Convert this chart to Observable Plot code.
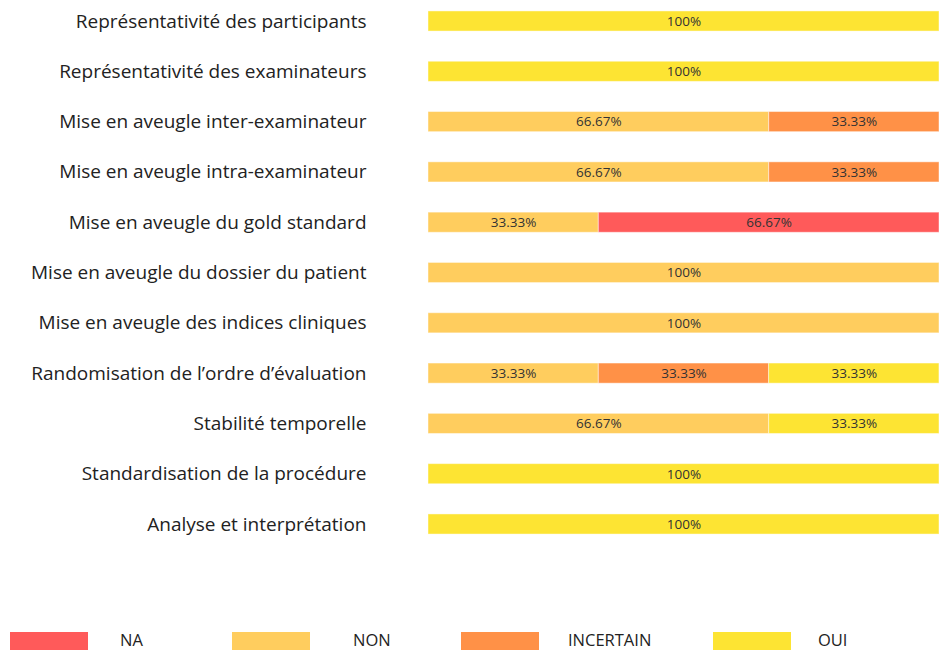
<!DOCTYPE html>
<html>
<head>
<meta charset="utf-8">
<script src="https://cdn.jsdelivr.net/npm/d3@7"></script>
<script src="https://cdn.jsdelivr.net/npm/@observablehq/plot@0.6"></script>
<style>
  body { margin: 0; background: #fff; font-family: "Open Sans", sans-serif; }
  #chart { position: relative; width: 939px; }
  #legend { position: relative; width: 939px; height: 105px; }
  .sw { position: absolute; top: 87px; width: 78px; height: 22px; }
  .lb { position: absolute; top: 87px; font-size: 16.5px; line-height: 1; color: #222; font-family: "Open Sans", sans-serif; }
</style>
</head>
<body>
<div id="chart"></div>
<script>
const categories = [
  "Représentativité des participants",
  "Représentativité des examinateurs",
  "Mise en aveugle inter-examinateur",
  "Mise en aveugle intra-examinateur",
  "Mise en aveugle du gold standard",
  "Mise en aveugle du dossier du patient",
  "Mise en aveugle des indices cliniques",
  "Randomisation de l’ordre d’évaluation",
  "Stabilité temporelle",
  "Standardisation de la procédure",
  "Analyse et interprétation"
];
const seriesNames = ["NA", "NON", "INCERTAIN", "OUI"];
const seriesColors = ["#ff5a5a", "#ffcd5e", "#ff9147", "#fde433"];
const valuesNA        = [0, 0, 0, 0, 66.67, 0, 0, 0, 0, 0, 0];
const valuesNON       = [0, 0, 66.67, 66.67, 33.33, 100, 100, 33.33, 66.67, 0, 0];
const valuesINCERTAIN = [0, 0, 33.33, 33.33, 0, 0, 0, 33.33, 0, 0, 0];
const valuesOUI       = [100, 100, 0, 0, 0, 0, 0, 33.33, 33.33, 100, 100];
const stackOrder = ["NON", "NA", "INCERTAIN", "OUI"];

const seriesValues = {NA: valuesNA, NON: valuesNON, INCERTAIN: valuesINCERTAIN, OUI: valuesOUI};
const rows = [];
categories.forEach((c, i) => {
  for (const s of stackOrder) {
    const v = seriesValues[s][i];
    if (v > 0) rows.push({category: c, series: s, value: v});
  }
});
const fmt = v => (v === 100 ? "100" : v.toFixed(2)) + "%";

const chart = Plot.plot({
  width: 939,
  height: 545,
  marginTop: 0,
  marginBottom: 0,
  marginLeft: 428,
  marginRight: 0,
  style: {fontFamily: "Open Sans, sans-serif", background: "#fff"},
  x: {domain: [0, 100], axis: null},
  y: {domain: categories, paddingInner: 0.6, paddingOuter: 0.2175, round: false, label: null},
  color: {domain: seriesNames, range: seriesColors},
  marks: [
    Plot.barX(rows, Plot.stackX({
      x: "value", y: "category", fill: "series", order: stackOrder,
      stroke: "#fff", strokeOpacity: 0.45, strokeWidth: 1
    })),
    Plot.text(rows, Plot.stackX({
      x: "value", y: "category", z: "series", order: stackOrder,
      text: d => fmt(d.value), fill: "#333", fontSize: 13.5
    })),
    Plot.axisY({tickSize: 0, tickPadding: 62, fontSize: 19, label: null, color: "#222"})
  ]
});
document.getElementById("chart").appendChild(chart);

const legend = document.createElement("div");
legend.id = "legend";
const swX = [10, 232, 461, 713];
const lbX = [120, 353, 568, 818];
seriesNames.forEach((s, i) => {
  const sw = document.createElement("div");
  sw.className = "sw";
  sw.style.left = swX[i] + "px";
  sw.style.background = seriesColors[i];
  legend.appendChild(sw);
  const lb = document.createElement("div");
  lb.className = "lb";
  lb.style.left = lbX[i] + "px";
  lb.textContent = s;
  legend.appendChild(lb);
});
document.body.appendChild(legend);
</script>
</body>
</html>
